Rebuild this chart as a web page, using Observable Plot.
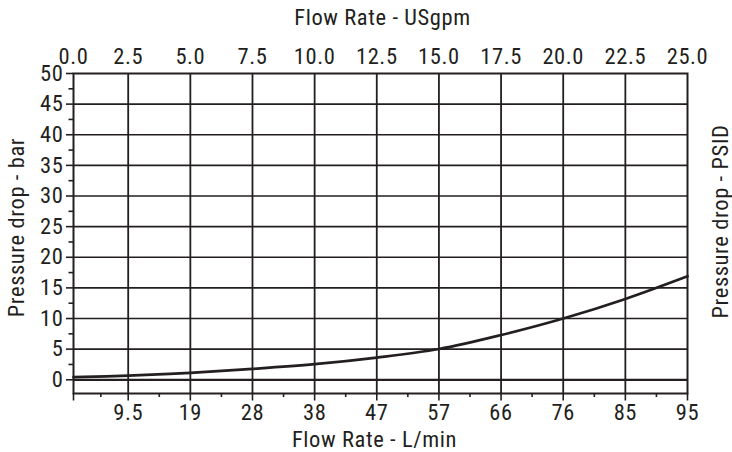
<!DOCTYPE html>
<html><head><meta charset="utf-8">
<script src="https://cdn.jsdelivr.net/npm/d3@7"></script>
<script src="https://cdn.jsdelivr.net/npm/@observablehq/plot@0.6"></script>
<style>body{margin:0;background:#fff}</style>
</head><body><div id="chart"></div>
<script>
const flowGpm = [0, 2.5, 5, 7.5, 10, 12.5, 15, 17.5, 20, 22.5, 25];
const pressureBar = [0.42, 0.68, 1.14, 1.78, 2.55, 3.62, 5.02, 7.3, 10.0, 13.2, 16.9];
const gpmTicks = [0, 2.5, 5, 7.5, 10, 12.5, 15, 17.5, 20, 22.5, 25];
const gpmTickLabels = ["0.0", "2.5", "5.0", "7.5", "10.0", "12.5", "15.0", "17.5", "20.0", "22.5", "25.0"];
const lpmTickLabels = ["", "9.5", "19", "28", "38", "47", "57", "66", "76", "85", "95"];
const gpmMinorTicks = [1.25, 3.75, 6.25, 8.75, 11.25, 13.75, 16.25, 18.75, 21.25, 23.75];
const barTicks = [0, 5, 10, 15, 20, 25, 30, 35, 40, 45, 50];
const barMinorTicks = [2.5, 7.5, 12.5, 17.5, 22.5, 27.5, 32.5, 37.5, 42.5, 47.5];
const topTitle = "Flow Rate - USgpm";
const bottomTitle = "Flow Rate - L/min";
const leftTitle = "Pressure drop - bar";
const rightTitle = "Pressure drop - PSID";

const curve = flowGpm.map((x, i) => ({x, y: pressureBar[i]}));
const gridX = gpmTicks.slice(1, -1);
const gridY = barTicks.slice(1, -1);
const ink = "#231f20";
const topLabel = new Map(gpmTicks.map((d, i) => [d, gpmTickLabels[i]]));
const bottomLabel = new Map(gpmTicks.map((d, i) => [d, lpmTickLabels[i]]));

const chart = Plot.plot({
  width: 732,
  height: 452,
  marginLeft: 73,
  marginRight: 45,
  marginTop: 73,
  marginBottom: 59,
  style: {fontFamily: "'Roboto Condensed', Roboto, sans-serif", fontSize: "22.5px", letterSpacing: "0.6px", color: ink, background: "#fff"},
  x: {type: "linear", domain: [0, 2.5, 25], range: [73, 127.7, 687], label: null},
  y: {domain: [-2.24, 50], label: null},
  marks: [
    Plot.ruleX(gridX, {stroke: ink, strokeWidth: 1.8}),
    Plot.ruleY(gridY, {stroke: ink, strokeWidth: 1.7}),
    Plot.ruleY([0], {stroke: ink, strokeWidth: 2.3}),
    Plot.frame({stroke: ink, strokeWidth: 2}),
    Plot.line(curve, {x: "x", y: "y", curve: "catmull-rom", stroke: ink, strokeWidth: 2.7}),
    Plot.axisX({anchor: "top", ticks: gpmTicks, tickSize: 0, tickPadding: 10, tickFormat: d => topLabel.get(d), label: null}),
    Plot.axisX({anchor: "bottom", ticks: gpmTicks, tickSize: 7.5, tickPadding: 3, strokeWidth: 1.6, tickFormat: d => bottomLabel.get(d), label: null}),
    Plot.axisX({anchor: "bottom", ticks: gpmMinorTicks, tickSize: 4, strokeWidth: 1.6, tickFormat: () => "", label: null}),
    Plot.axisY({anchor: "left", ticks: barTicks, tickSize: 7, tickPadding: 3, strokeWidth: 1.6, label: null}),
    Plot.axisY({anchor: "left", ticks: barMinorTicks, tickSize: 4.5, strokeWidth: 1.6, tickFormat: () => "", label: null}),
    Plot.text([topTitle], {text: d => d, frameAnchor: "top", textAnchor: "middle", dx: 2, dy: -55.5, lineAnchor: "middle", fill: ink}),
    Plot.text([bottomTitle], {text: d => d, frameAnchor: "bottom", textAnchor: "middle", dx: -6, dy: 46, lineAnchor: "middle", fill: ink}),
    Plot.text([leftTitle], {text: d => d, frameAnchor: "left", textAnchor: "middle", rotate: -90, dx: -56.5, dy: -6, lineAnchor: "middle", fill: ink}),
    Plot.text([rightTitle], {text: d => d, frameAnchor: "right", textAnchor: "middle", rotate: -90, dx: 33.5, dy: -12, lineAnchor: "middle", fill: ink})
  ]
});
document.getElementById("chart").appendChild(chart);
</script>
</body></html>
